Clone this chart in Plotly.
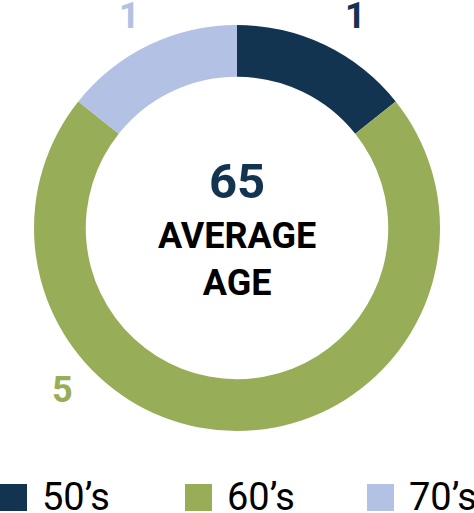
import plotly.graph_objects as go

age_groups = ['50’s', '60’s', '70’s']
group_counts = [1, 5, 1]
group_colors = ['#133451', '#98AD58', '#B2C1E4']
average_age = 65

W, H = 474, 513

def px(x):
  return x / W

def py(y):
  return 1 - y / H

fig = go.Figure()
fig.add_trace(go.Pie(labels=age_groups, values=group_counts, hole=0.745,
                     sort=False, direction='clockwise', rotation=0,
                     marker=dict(colors=group_colors, line=dict(width=0)),
                     textinfo='none', showlegend=False,
                     domain=dict(x=[px(34), px(440)], y=[py(431), py(25)])))

# value labels sitting outside the ring
label_spots = [(355, 16), (62, 390), (129, 16)]
for cnt, (lx, ly) in enumerate(label_spots):
  fig.add_annotation(x=px(lx), y=py(ly), xref='paper', yref='paper', showarrow=False,
                     text='<b>' + str(group_counts[cnt]) + '</b>',
                     font=dict(family='Roboto', size=36, color=group_colors[cnt]),
                     xanchor='center', yanchor='middle')

# centre text
fig.add_annotation(x=0.5, y=py(181), xref='paper', yref='paper', showarrow=False,
                   text='<b>' + str(average_age) + '</b>',
                   font=dict(family='Roboto', size=49, color=group_colors[0]),
                   xanchor='center', yanchor='middle')
fig.add_annotation(x=0.5, y=py(259), xref='paper', yref='paper', showarrow=False,
                   text='<b>AVERAGE<br>AGE</b>',
                   font=dict(family='Roboto', size=36, color='black'),
                   xanchor='center', yanchor='middle')

# legend drawn by hand so the swatches can be large
legend_x = [0, 185, 367]
for cnt, name in enumerate(age_groups):
  x0 = legend_x[cnt]
  fig.add_shape(type='rect', xref='paper', yref='paper',
                x0=px(x0), x1=px(x0 + 27), y0=py(511), y1=py(484),
                fillcolor=group_colors[cnt], line=dict(width=0))
  fig.add_annotation(x=px(x0 + 40), y=py(497), xref='paper', yref='paper', showarrow=False,
                     text=name, font=dict(family='Roboto', size=38, color='black'),
                     xanchor='left', yanchor='middle')

fig.update_layout(width=W, height=H, margin=dict(l=0, r=0, t=0, b=0),
                  paper_bgcolor='white', plot_bgcolor='white')
fig.write_html('out.html', config={'displayModeBar': False},
               post_script="document.body.style.margin='0';")
